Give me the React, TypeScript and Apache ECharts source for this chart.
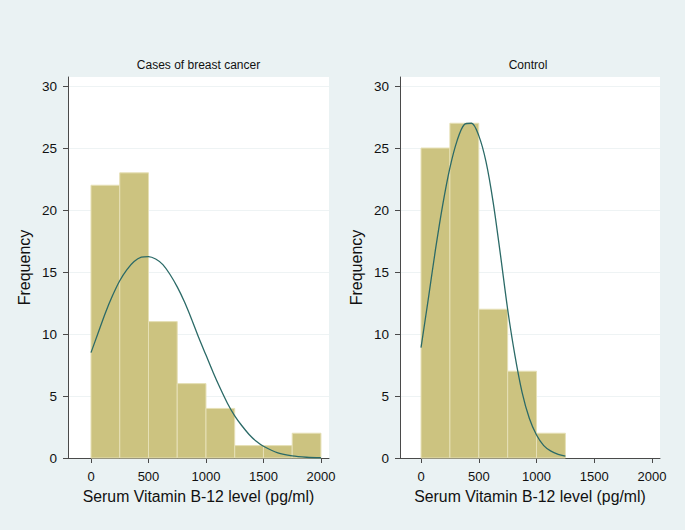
import React, { useEffect, useRef } from "react";
import * as echarts from "echarts";

// Histogram bins (pg/ml)
const binLower = [0, 250, 500, 750, 1000, 1250, 1500, 1750];
const binUpper = [250, 500, 750, 1000, 1250, 1500, 1750, 2000];
const casesFreq = [22, 23, 11, 6, 4, 1, 1, 2];
const controlFreq = [25, 27, 12, 7, 2];

// Normal-density overlay
const casesCurveX = [0, 62.5, 125, 187.5, 250, 312.5, 375, 437.5, 500, 562.5, 625, 687.5, 750, 812.5, 875, 937.5, 1000, 1062.5, 1125, 1187.5, 1250, 1312.5, 1375, 1437.5, 1500, 1625, 1750, 1875, 2000];
const casesCurveY = [8.5, 10.1, 11.7, 13.1, 14.3, 15.2, 15.85, 16.2, 16.25, 16.05, 15.6, 14.8, 13.8, 12.6, 11.2, 9.7, 8.3, 6.9, 5.6, 4.4, 3.4, 2.6, 1.9, 1.35, 0.95, 0.42, 0.17, 0.06, 0.02];
const controlCurveX = [0, 62.5, 125, 187.5, 250, 312.5, 375, 437.5, 500, 562.5, 625, 687.5, 750, 812.5, 875, 937.5, 1000, 1062.5, 1125, 1187.5, 1250];
const controlCurveY = [8.9, 12.8, 16.8, 20.4, 23.4, 25.6, 26.9, 27.0, 26.0, 23.9, 20.6, 16.4, 12.0, 8.3, 5.3, 3.2, 1.85, 1.0, 0.55, 0.3, 0.15];

const xTicks = [0, 500, 1000, 1500, 2000];
const yTicks = [0, 5, 10, 15, 20, 25, 30];
const panelTitles = ["Cases of breast cancer", "Control"];
const xTitle = "Serum Vitamin B-12 level (pg/ml)";
const yTitle = "Frequency";

const FONT = "'Liberation Sans', Arial, Helvetica, sans-serif";
const BAR = "#CCC380";
const BAR_EDGE = "#E6E0B6";
const LINE = "#2B6A67";
const AXIS = "#4A4A4A";
const TEXT = "#111111";

function histData(freq: number[]) {
  return freq.map((f, i) => [binLower[i], binUpper[i], f]);
}
function curveData(xs: number[], ys: number[]) {
  return xs.map((x, i) => [x, ys[i]]);
}

export default function App() {
  const ref = useRef<HTMLDivElement>(null);
  useEffect(() => {
    if (!ref.current) return;
    const chart = echarts.init(ref.current, undefined, { renderer: "svg" });
    const grids = [
      { left: 68, top: 77, width: 261, height: 381 },
      { left: 400, top: 77, width: 260, height: 381 },
    ];
    const xRanges = [
      [-200, 2070],
      [-182, 2069],
    ];
    const mkX = (i: number) => ({
      type: "value",
      gridIndex: i,
      min: xRanges[i][0],
      max: xRanges[i][1],
      name: xTitle,
      nameLocation: "middle",
      nameGap: 30,
      nameTextStyle: { fontFamily: FONT, fontSize: 15.8, color: TEXT },
      axisLine: { show: true, onZero: false, lineStyle: { color: AXIS, width: 1 } },
      axisTick: { show: true, length: 5, customValues: xTicks, lineStyle: { color: AXIS } },
      axisLabel: {
        customValues: xTicks,
        margin: 12,
        fontFamily: FONT,
        fontSize: 13,
        color: TEXT,
        formatter: (v: number) => String(v),
      },
      splitLine: { show: false },
    });
    const mkY = (i: number) => ({
      type: "value",
      gridIndex: i,
      min: 0,
      max: 30.73,
      interval: 5,
      name: yTitle,
      nameLocation: "middle",
      nameGap: 36,
      nameTextStyle: { fontFamily: FONT, fontSize: 16, color: TEXT },
      axisLine: { show: true, onZero: false, lineStyle: { color: AXIS, width: 1 } },
      axisTick: { show: true, length: 5, customValues: yTicks, lineStyle: { color: AXIS } },
      axisLabel: {
        customValues: yTicks,
        margin: 11,
        fontFamily: FONT,
        fontSize: 13.5,
        color: TEXT,
        formatter: (v: number) => String(v),
      },
      splitLine: { show: true, lineStyle: { color: "#EEF3F4", width: 1 } },
    });
    const renderBar = (params: any, api: any) => {
      const lo = api.value(0);
      const hi = api.value(1);
      const v = api.value(2);
      const p0 = api.coord([lo, v]);
      const p1 = api.coord([hi, 0]);
      return {
        type: "rect",
        shape: { x: p0[0], y: p0[1], width: p1[0] - p0[0], height: p1[1] - p0[1] },
        style: { fill: BAR, stroke: BAR_EDGE, lineWidth: 1 },
      };
    };
    chart.setOption({
      animation: false,
      backgroundColor: "#EAF2F3",
      grid: grids.map((g) => ({ ...g, show: true, backgroundColor: "#FFFFFF", borderWidth: 0 })),
      xAxis: [mkX(0), mkX(1)],
      yAxis: [mkY(0), mkY(1)],
      graphic: [
        {
          type: "text",
          x: 198.5,
          y: 64.5,
          style: { text: panelTitles[0], align: "center", verticalAlign: "middle", font: `12px ${FONT}`, fill: TEXT },
        },
        {
          type: "text",
          x: 528,
          y: 64.5,
          style: { text: panelTitles[1], align: "center", verticalAlign: "middle", font: `12px ${FONT}`, fill: TEXT },
        },
      ],
      series: [
        {
          type: "custom",
          xAxisIndex: 0,
          yAxisIndex: 0,
          renderItem: renderBar,
          encode: { x: [0, 1], y: 2 },
          data: histData(casesFreq),
          z: 2,
        },
        {
          type: "custom",
          xAxisIndex: 1,
          yAxisIndex: 1,
          renderItem: renderBar,
          encode: { x: [0, 1], y: 2 },
          data: histData(controlFreq),
          z: 2,
        },
        {
          type: "line",
          xAxisIndex: 0,
          yAxisIndex: 0,
          data: curveData(casesCurveX, casesCurveY),
          smooth: 0.3,
          symbol: "none",
          lineStyle: { color: LINE, width: 1.3 },
          z: 3,
        },
        {
          type: "line",
          xAxisIndex: 1,
          yAxisIndex: 1,
          data: curveData(controlCurveX, controlCurveY),
          smooth: 0.3,
          symbol: "none",
          lineStyle: { color: LINE, width: 1.3 },
          z: 3,
        },
      ],
    });
    return () => chart.dispose();
  }, []);
  return (
    <div
      ref={ref}
      style={{ position: "fixed", left: 0, top: 0, width: 685, height: 530 }}
    />
  );
}
